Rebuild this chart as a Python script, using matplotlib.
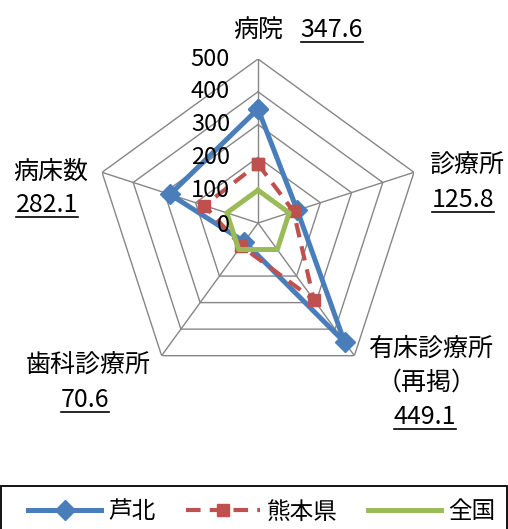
import numpy as np
import matplotlib
matplotlib.use("Agg")
import matplotlib.pyplot as plt
from matplotlib.lines import Line2D
from matplotlib.patches import Rectangle

plt.rcParams['font.family'] = ['Noto Sans CJK JP', 'DejaVu Sans']

categories = ["病院", "診療所", "有床診療所", "歯科診療所", "病床数"]
ashikita = [347.6, 125.8, 449.1, 70.6, 282.1]
kumamoto = [180, 114, 289, 87, 172]
zenkoku = [100, 100, 100, 100, 100]
rticks = [0, 100, 200, 300, 400, 500]

BLUE = "#4A7EBB"
RED = "#C0504D"
GREEN = "#9BBB59"
GRID = "#868686"

W, H = 508, 529
fig = plt.figure(figsize=(W / 100, H / 100), dpi=100)

cx, cy, rad = 258, 306, 164
ax = fig.add_axes([(cx - rad) / W, (cy - rad) / H, 2 * rad / W, 2 * rad / H],
                  projection="polar")
ax.set_theta_offset(np.pi / 2)
ax.set_theta_direction(-1)
ax.set_ylim(0, 500)
ax.grid(False)
ax.spines["polar"].set_visible(False)
ax.set_xticks([])
ax.set_yticks([])
ax.patch.set_visible(False)

n = len(categories)
theta = np.linspace(0, 2 * np.pi, n, endpoint=False)
tc = np.append(theta, theta[0])

# pentagon grid + spokes
for r in rticks[1:]:
    ax.plot(tc, [r] * (n + 1), color=GRID, lw=1, zorder=1)
for t in theta:
    ax.plot([t, t], [0, 500], color=GRID, lw=1, zorder=1)

def closed(v):
    return list(v) + [v[0]]

ax.plot(tc, closed(ashikita), color=BLUE, lw=3.6, marker="D", ms=10,
        label="芦北", zorder=3, clip_on=False)
ax.plot(tc, closed(kumamoto), color=RED, lw=3, ls=(0, (3.5, 2.2)), marker="s",
        ms=8, label="熊本県", zorder=4, clip_on=False)
ax.plot(tc, closed(zenkoku), color=GREEN, lw=3.6, label="全国", zorder=5)

for r in rticks:
    ax.annotate(str(r), xy=(0, r), xytext=(-28, -2 if r == 0 else 0),
                textcoords="offset pixels", ha="right", va="center",
                fontsize=17, zorder=10)

FS = 18
labels = [
    ("病院", 258, 30, None),
    ("347.6", 332, 30, True),
    ("診療所", 467, 166, None),
    ("125.8", 463, 200, True),
    ("有床診療所", 431, 349, None),
    ("（再掲）", 427, 383, None),
    ("449.1", 425, 417, True),
    ("歯科診療所", 88, 366, None),
    ("70.6", 85, 400, True),
    ("病床数", 51, 172, None),
    ("282.1", 47, 205, True),
]
under = []
for txt, x, y, ul in labels:
    t = fig.text(x / W, 1 - y / H, txt, ha="center", va="center", fontsize=FS)
    if ul:
        under.append(t)

# legend box (frame drawn separately so it can run off the bottom edge)
fig.add_artist(Rectangle((0.8 / W, -0.05), 506 / W, 0.05 + (H - 486) / H,
                         transform=fig.transFigure, fill=False,
                         edgecolor="black", lw=1.3))
leg = fig.legend(loc="center", bbox_to_anchor=(262 / W, 1 - 512 / H),
                 ncol=3, fontsize=17, frameon=False, handlelength=3.1,
                 handletextpad=0.3, borderpad=0, borderaxespad=0,
                 columnspacing=1.3)

fig.canvas.draw()
r = fig.canvas.get_renderer()
for t in under:
    bb = t.get_window_extent(r)
    yl = bb.y0 + 1
    fig.add_artist(Line2D([bb.x0 / W, bb.x1 / W], [yl / H, yl / H],
                          color="black", lw=1.2, transform=fig.transFigure))

fig.savefig("out.png", dpi=100)
